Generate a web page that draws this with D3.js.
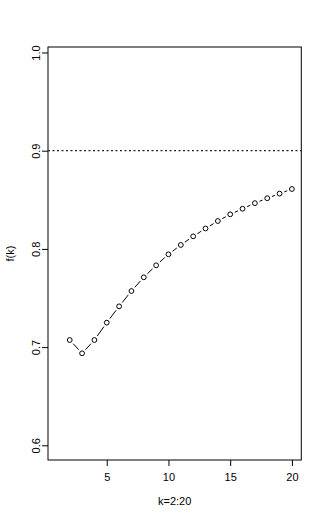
<!DOCTYPE html>
<html>
<head>
<meta charset="utf-8">
<script src="https://cdn.jsdelivr.net/npm/d3@7"></script>
<style>
html,body{margin:0;padding:0;background:#fff;}
svg{display:block;}
text{font-family:"Liberation Sans",Arial,Helvetica,sans-serif;font-size:11px;fill:#000;}
</style>
</head>
<body>
<script>
const kValues = [2,3,4,5,6,7,8,9,10,11,12,13,14,15,16,17,18,19,20];
const fValues = [0.7072,0.6937,0.7072,0.7249,0.7415,0.7571,0.7711,0.7833,0.7945,0.8040,0.8128,0.8208,0.8284,0.8352,0.8409,0.8466,0.8516,0.8563,0.8610];
const xTicks = [5,10,15,20];
const yTicks = [0.6,0.7,0.8,0.9,1.0];
const refLine = 0.9;
const xLabel = "k=2:20";
const yLabel = "f(k)";

const W = 325, H = 520;
const L = 48, R = 301.3, T = 47, B = 460;

const svg = d3.select("body").append("svg").attr("width", W).attr("height", H);

const x = d3.scaleLinear().domain([0.24, 20.76]).range([L, R]);
const y = d3.scaleLinear().domain([0.58503, 1.0056]).range([B, T]);

// frame
svg.append("rect").attr("x", L).attr("y", T).attr("width", R - L).attr("height", B - T)
  .attr("fill", "none").attr("stroke", "#000").attr("stroke-width", 1);

// x axis
const xAxis = d3.axisBottom(x).tickValues(xTicks).tickSize(6).tickPadding(7).tickFormat(d3.format("d"));
const gx = svg.append("g").attr("transform", `translate(0,${B})`).call(xAxis);
gx.select(".domain").remove();
gx.selectAll("text").style("font-size", "11px").attr("font-family", null);

// y axis
const yAxis = d3.axisLeft(y).tickValues(yTicks).tickSize(6).tickFormat(d3.format(".1f"));
const gy = svg.append("g").attr("transform", `translate(${L},0)`).call(yAxis);
gy.select(".domain").remove();
gy.selectAll("text")
  .attr("x", null).attr("dy", null)
  .attr("transform", "translate(-12,0) rotate(-90)")
  .attr("text-anchor", "middle")
  .attr("dy", "0.35em")
  .style("font-size", "11px").attr("font-family", null);

// axis titles
svg.append("text").attr("x", (L + R) / 2).attr("y", 505).attr("text-anchor", "middle").text(xLabel);
svg.append("text").attr("transform", `translate(14,${(T + B) / 2}) rotate(-90)`).attr("text-anchor", "middle").text(yLabel);

// reference line
svg.append("line").attr("x1", L).attr("x2", R).attr("y1", y(refLine)).attr("y2", y(refLine))
  .attr("stroke", "#222").attr("stroke-width", 1.2).attr("stroke-dasharray", "2,2.5");

// type="b" segments with gaps
const pts = kValues.map((k, i) => [x(k), y(fValues[i])]);
const gap = 5;
for (let i = 0; i < pts.length - 1; i++) {
  const [x1, y1] = pts[i], [x2, y2] = pts[i + 1];
  const dx = x2 - x1, dy = y2 - y1, len = Math.hypot(dx, dy);
  if (len <= 2 * gap) continue;
  const ux = dx / len, uy = dy / len;
  svg.append("line")
    .attr("x1", x1 + ux * gap).attr("y1", y1 + uy * gap)
    .attr("x2", x2 - ux * gap).attr("y2", y2 - uy * gap)
    .attr("stroke", "#000").attr("stroke-width", 1);
}

svg.selectAll("circle.pt").data(kValues).enter().append("circle")
  .attr("class", "pt")
  .attr("cx", d => x(d))
  .attr("cy", (d, i) => y(fValues[i]))
  .attr("r", 2.4)
  .attr("fill", "none").attr("stroke", "#000").attr("stroke-width", 1);
</script>
</body>
</html>
